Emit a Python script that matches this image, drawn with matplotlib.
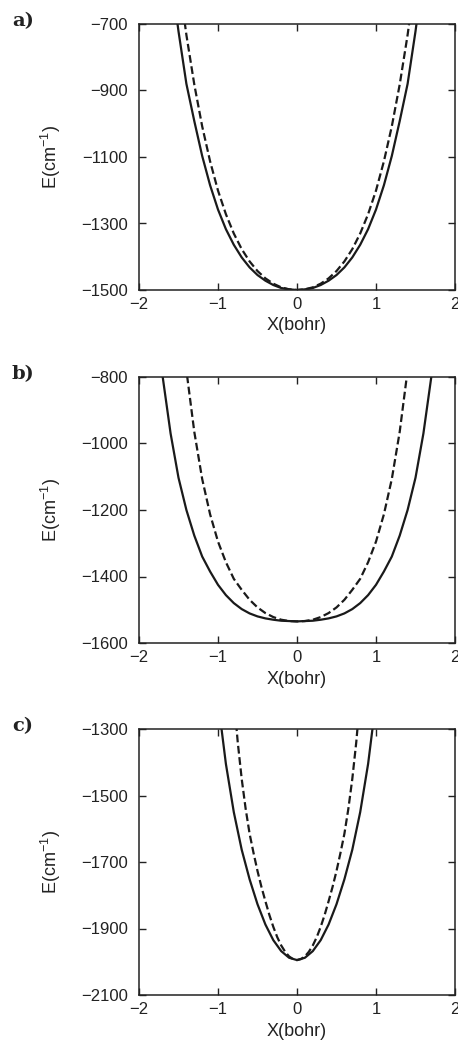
import matplotlib
matplotlib.use("Agg")
import matplotlib.pyplot as plt

plt.rcParams["font.family"] = ["Liberation Sans", "DejaVu Sans"]
plt.rcParams["mathtext.default"] = "regular"

# panel a
xa = [-1.6, -1.5, -1.4, -1.3, -1.2, -1.1, -1.0, -0.9, -0.8, -0.7, -0.6, -0.5, -0.4, -0.3, -0.2, -0.1,
      0.0, 0.1, 0.2, 0.3, 0.4, 0.5, 0.6, 0.7, 0.8, 0.9, 1.0, 1.1, 1.2, 1.3, 1.4, 1.5, 1.6]
a_solid = [-542, -722, -880, -992, -1097, -1185, -1258, -1317, -1364, -1402, -1432, -1455, -1472, -1485, -1494, -1498,
           -1500, -1498, -1494, -1485, -1472, -1455, -1432, -1402, -1364, -1317, -1258, -1185, -1097, -992, -880, -722, -542]
a_dash = [-400, -557, -733, -882, -1008, -1113, -1201, -1272, -1330, -1377, -1414, -1443, -1465, -1481, -1492, -1498,
          -1500, -1498, -1492, -1481, -1465, -1443, -1414, -1377, -1330, -1272, -1201, -1113, -1008, -882, -733, -557, -400]

# panel b
xb = [-1.8, -1.7, -1.6, -1.5, -1.4, -1.3, -1.2, -1.1, -1.0, -0.9, -0.8, -0.7, -0.6, -0.5, -0.4, -0.3, -0.2, -0.1,
      0.0, 0.1, 0.2, 0.3, 0.4, 0.5, 0.6, 0.7, 0.8, 0.9, 1.0, 1.1, 1.2, 1.3, 1.4, 1.5, 1.6, 1.7, 1.8]
b_solid = [-585, -800, -970, -1103, -1200, -1277, -1340, -1385, -1425, -1456, -1480, -1498, -1511, -1520, -1526, -1530, -1533, -1534,
           -1535, -1534, -1533, -1530, -1526, -1520, -1511, -1498, -1480, -1456, -1425, -1385, -1340, -1277, -1200, -1103, -970, -800, -585]
b_dash = [-300, -300, -300, -545, -780, -965, -1107, -1213, -1295, -1357, -1407, -1440, -1470, -1493, -1510, -1522, -1530, -1534,
          -1535, -1534, -1530, -1522, -1510, -1493, -1470, -1440, -1407, -1357, -1295, -1213, -1107, -965, -780, -545, -300, -300, -300]

# panel c
xc = [-1.1, -1.0, -0.9, -0.8, -0.7, -0.6, -0.5, -0.4, -0.3, -0.2, -0.1,
      0.0, 0.1, 0.2, 0.3, 0.4, 0.5, 0.6, 0.7, 0.8, 0.9, 1.0, 1.1]
c_solid = [-985, -1215, -1405, -1550, -1663, -1752, -1827, -1888, -1935, -1968, -1988,
           -1995, -1988, -1968, -1935, -1888, -1827, -1752, -1663, -1550, -1405, -1215, -985]
xc_dash = [-0.85, -0.8, -0.75, -0.7, -0.65, -0.6, -0.55, -0.5, -0.45, -0.4, -0.35, -0.3, -0.25, -0.2, -0.15, -0.1, -0.05,
           0.0, 0.05, 0.1, 0.15, 0.2, 0.25, 0.3, 0.35, 0.4, 0.45, 0.5, 0.55, 0.6, 0.65, 0.7, 0.75, 0.8, 0.85]
c_dash = [-1045, -1205, -1340, -1450, -1540, -1615, -1673, -1727, -1775, -1818, -1859, -1895, -1926, -1951, -1970, -1984, -1992,
          -1995, -1992, -1984, -1970, -1951, -1926, -1895, -1859, -1818, -1775, -1727, -1673, -1615, -1540, -1450, -1340, -1205, -1045]

panels = [
    ("a)", xa, a_solid, xa, a_dash, (-1500, -700), [-1500, -1300, -1100, -900, -700]),
    ("b)", xb, b_solid, xb, b_dash, (-1600, -800), [-1600, -1400, -1200, -1000, -800]),
    ("c)", xc, c_solid, xc_dash, c_dash, (-2100, -1300), [-2100, -1900, -1700, -1500, -1300]),
]

W, H = 458, 1043
fig = plt.figure(figsize=(W / 100, H / 100), dpi=100)
tops = [24, 377, 729]
for (lab, x1, y1, x2, y2, ylim, yticks), top in zip(panels, tops):
    ax = fig.add_axes([139 / W, 1 - (top + 266) / H, 316 / W, 266 / H])
    ax.plot(x1, y1, color="#1a1a1a", lw=1.6)
    ax.plot(x2, y2, color="#1a1a1a", lw=1.6, dashes=(3.5, 1.6))
    ax.set_xlim(-2, 2)
    ax.set_ylim(*ylim)
    ax.set_xticks([-2, -1, 0, 1, 2])
    ax.set_yticks(yticks)
    ax.tick_params(direction="in", length=5, width=1, top=True, right=True, labelsize=12, colors="#222222")
    ax.tick_params(axis="y", pad=8)
    ax.tick_params(axis="x", pad=5)
    for s in ax.spines.values():
        s.set_linewidth(1.1)
        s.set_color("#222222")
    ax.set_xlabel("X(bohr)", fontsize=13, labelpad=4, color="#222222")
    ax.set_ylabel("E(cm$^{-1}$)", fontsize=13, labelpad=13, color="#222222")
    fig.text(12 / W, 1 - (top - 3) / H, lab, fontsize=14, fontweight="bold",
             family=["DejaVu Serif"], va="center", ha="left", color="#222222")

fig.savefig("out.png", dpi=100)
